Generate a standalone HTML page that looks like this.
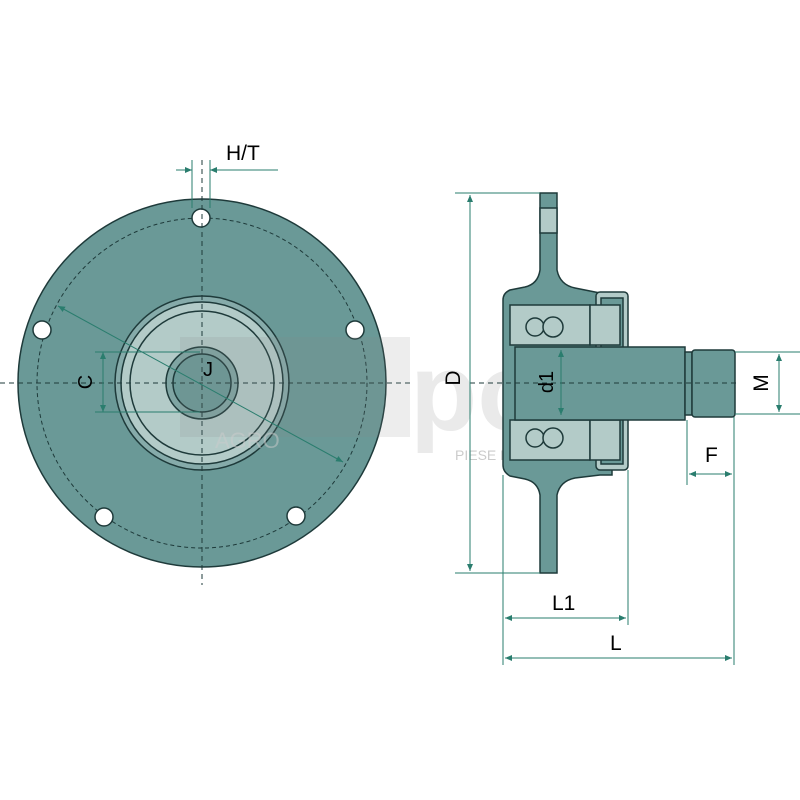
<!DOCTYPE html>
<html><head><style>body{margin:0;background:#fff}svg{display:block}text{font-family:"Liberation Sans",sans-serif}</style></head><body>
<svg width="800" height="800" viewBox="0 0 800 800" xmlns="http://www.w3.org/2000/svg">
<defs><marker id="a" markerWidth="8" markerHeight="8" refX="7" refY="4" orient="auto-start-reverse"><path d="M0,1 L7,4 L0,7 z" fill="#2a7d6e"/></marker></defs>
<circle cx="202" cy="383" r="184" fill="#6a9997" stroke="#1e3a3a" stroke-width="1.5"/>
<circle cx="202" cy="383" r="165" fill="none" stroke="#1e3a3a" stroke-dasharray="4,3"/>
<g fill="#fff" stroke="#1e3a3a" stroke-width="1.5">
<circle cx="201" cy="218" r="9"/><circle cx="42" cy="330" r="9"/><circle cx="355" cy="330" r="9"/><circle cx="104" cy="517" r="9"/><circle cx="296" cy="516" r="9"/></g>
<circle cx="202" cy="383" r="87" fill="#86abaa" stroke="#1e3a3a" stroke-width="1.5"/>
<circle cx="202" cy="383" r="81" fill="#b3cbc8" stroke="#1e3a3a" stroke-width="1.5"/>
<circle cx="202" cy="383" r="72" fill="#b3cbc8" stroke="#1e3a3a" stroke-width="1.5"/>
<circle cx="202" cy="383" r="36" fill="#7fa5a3" stroke="#1e3a3a" stroke-width="1.5"/>
<circle cx="202" cy="383" r="29" fill="#6a9997" stroke="#1e3a3a" stroke-width="1.5"/>
<line x1="0" y1="383" x2="410" y2="383" stroke="#1e3a3a" stroke-dasharray="5,4"/>
<line x1="202" y1="160" x2="202" y2="585" stroke="#1e3a3a" stroke-dasharray="5,4"/>
<!-- watermark -->
<rect x="180" y="337" width="230" height="100" fill="#888" opacity="0.15"/>
<text x="410" y="430" font-size="110" font-weight="bold" fill="#999" opacity="0.2">pols</text>
<text x="455" y="460" font-size="14" fill="#999" opacity="0.5">PIESE DE SCHIMB</text>
<text x="215" y="448" font-size="22" fill="#ccc" opacity="0.5">AGRO</text>
<g stroke="#2a7d6e" stroke-width="1" fill="none">
<line x1="58" y1="306" x2="343" y2="462" marker-start="url(#a)" marker-end="url(#a)"/>
<line x1="95" y1="352" x2="200" y2="352"/><line x1="95" y1="412" x2="200" y2="412"/>
<line x1="103" y1="352" x2="103" y2="412" marker-start="url(#a)" marker-end="url(#a)"/>
<line x1="192" y1="160" x2="192" y2="208"/><line x1="210" y1="160" x2="210" y2="208"/>
<line x1="210" y1="170" x2="278" y2="170" marker-start="url(#a)"/>
<line x1="176" y1="170" x2="192" y2="170" marker-end="url(#a)"/>
</g>
<text x="226" y="160" font-size="21">H/T</text>
<text x="203" y="376" font-size="20">J</text>
<text x="0" y="0" font-size="20" transform="translate(92,382) rotate(-90)" text-anchor="middle">C</text>
<!-- side view -->
<g stroke="#1e3a3a" stroke-width="1.5">
<path d="M540,193 H557 V270 Q560,285 575,288 L600,293 H612 V475 H600 L575,478 Q560,481 557,495 V573 H540 V495 Q538,482 525,479 L510,476 Q503,472 503,465 V300 Q503,293 510,290 L525,287 Q538,284 540,270 Z" fill="#6a9997"/>
<rect x="540" y="208" width="17" height="25" fill="#b3cbc8"/>
<rect x="596" y="292" width="32" height="178" rx="4" fill="#b3cbc8"/>
<rect x="601" y="298" width="22" height="166" fill="#6a9997"/>
<rect x="510" y="305" width="80" height="40" fill="#b3cbc8"/>
<rect x="510" y="420" width="80" height="40" fill="#b3cbc8"/>
<rect x="590" y="305" width="30" height="40" fill="#b3cbc8"/>
<rect x="590" y="420" width="30" height="40" fill="#b3cbc8"/>
<circle cx="535" cy="327" r="9" fill="#b3cbc8"/><circle cx="553" cy="327" r="10" fill="#b3cbc8"/>
<circle cx="535" cy="438" r="9" fill="#b3cbc8"/><circle cx="553" cy="438" r="10" fill="#b3cbc8"/>
<rect x="515" y="347" width="170" height="73" fill="#6a9997"/>
<rect x="685" y="352" width="7" height="63" fill="#6a9997"/>
<rect x="692" y="350" width="43" height="67" rx="3" fill="#6a9997"/>
</g>
<line x1="470" y1="383" x2="740" y2="383" stroke="#1e3a3a" stroke-dasharray="5,4"/>
<g stroke="#2a7d6e" stroke-width="1" fill="none">
<line x1="455" y1="193" x2="540" y2="193"/><line x1="455" y1="573" x2="540" y2="573"/>
<line x1="470" y1="195" x2="470" y2="571" marker-start="url(#a)" marker-end="url(#a)"/>
<line x1="561" y1="350" x2="561" y2="415" marker-start="url(#a)" marker-end="url(#a)"/>
<line x1="735" y1="352" x2="800" y2="352"/><line x1="735" y1="414" x2="800" y2="414"/>
<line x1="779" y1="354" x2="779" y2="412" marker-start="url(#a)" marker-end="url(#a)"/>
<line x1="687" y1="420" x2="687" y2="485"/><line x1="734" y1="417" x2="734" y2="665"/>
<line x1="689" y1="474" x2="732" y2="474" marker-start="url(#a)" marker-end="url(#a)"/>
<line x1="503" y1="475" x2="503" y2="665"/><line x1="628" y1="470" x2="628" y2="625"/>
<line x1="505" y1="618" x2="626" y2="618" marker-start="url(#a)" marker-end="url(#a)"/>
<line x1="505" y1="658" x2="732" y2="658" marker-start="url(#a)" marker-end="url(#a)"/>
</g>
<text x="0" y="0" font-size="21" transform="translate(460,378) rotate(-90)" text-anchor="middle">D</text>
<text x="0" y="0" font-size="20" transform="translate(553,382) rotate(-90)" text-anchor="middle">d1</text>
<text x="0" y="0" font-size="21" transform="translate(768,383) rotate(-90)" text-anchor="middle">M</text>
<text x="705" y="462" font-size="21">F</text>
<text x="552" y="610" font-size="21">L1</text>
<text x="610" y="650" font-size="21">L</text>
</svg>
</body></html>
